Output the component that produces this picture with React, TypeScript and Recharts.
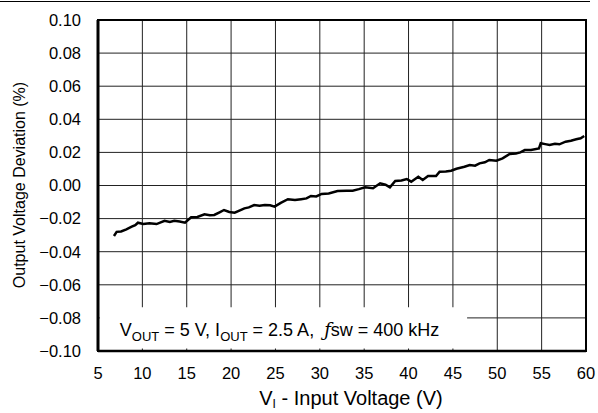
import {
  CartesianGrid,
  Line,
  LineChart,
  ReferenceArea,
  XAxis,
  YAxis,
} from "recharts";

const inputVoltage = [
  6.8, 7.1, 7.6, 8.2, 8.8, 9.2, 9.5, 10.1, 10.8, 11.6, 12.5, 13.1, 13.6, 14.2, 14.8,
  15.5, 16.2, 17.0, 17.6, 18.1, 18.7, 19.2, 19.8, 20.4, 21.0, 21.5, 22.0, 22.6, 23.2,
  23.8, 24.4, 24.9, 25.6, 26.4, 27.2, 27.9, 28.5, 29.0, 29.6, 30.2, 31.0, 32.0, 33.0,
  33.7, 34.4, 35.1, 36.0, 36.8, 37.4, 37.9, 38.5, 39.2, 39.8, 40.3, 41.1, 41.6, 42.2,
  43.1, 43.5, 44.2, 44.8, 45.4, 46.3, 46.9, 47.5, 48.0, 48.6, 49.1, 49.9, 50.6, 51.4,
  52.1, 52.6, 53.1, 53.8, 54.7, 54.9, 55.4, 55.9, 56.5, 57.0, 57.7, 58.3, 58.9, 59.4,
  59.8,
];

const deviation = [
  -0.0305, -0.028, -0.0278, -0.0265, -0.0249, -0.024, -0.0225, -0.0233, -0.0228,
  -0.0233, -0.0213, -0.022, -0.0213, -0.0218, -0.0225, -0.0192, -0.019, -0.0174,
  -0.018, -0.0178, -0.0162, -0.0148, -0.016, -0.0164, -0.015, -0.0138, -0.0132,
  -0.0118, -0.0122, -0.0118, -0.012, -0.0128, -0.0105, -0.0083, -0.0088, -0.0083,
  -0.0078, -0.0063, -0.0066, -0.0051, -0.0048, -0.0033, -0.0031, -0.0031, -0.0022,
  -0.0011, -0.0017, 0.0013, 0.0005, -0.0011, 0.0027, 0.003, 0.0039, 0.0023, 0.0053,
  0.0033, 0.0057, 0.0057, 0.0083, 0.0085, 0.0089, 0.0101, 0.0113, 0.0124, 0.012,
  0.0134, 0.014, 0.0154, 0.015, 0.0164, 0.019, 0.0194, 0.02, 0.0214, 0.0214, 0.0224,
  0.0255, 0.025, 0.0245, 0.0252, 0.0249, 0.0265, 0.027, 0.0279, 0.0285, 0.0299,
];

const xTicks = [5, 10, 15, 20, 25, 30, 35, 40, 45, 50, 55, 60];
const yTicks = [-0.1, -0.08, -0.06, -0.04, -0.02, 0, 0.02, 0.04, 0.06, 0.08, 0.1];

const data = inputVoltage.map((v, i) => ({ v, dev: deviation[i] }));

const FONT = "'Liberation Sans', Arial, sans-serif";
const tickStyle = { fill: "#000", fontSize: 16.5, fontFamily: FONT };

const fmtY = (n: number) => (n < 0 ? "\u2212" + Math.abs(n).toFixed(2) : n.toFixed(2));

const XLabel = (props: any) => {
  const vb = props.viewBox;
  return (
    <text x={vb.x + vb.width / 2 + 9} y={405} textAnchor="middle" fontSize={20} fontFamily={FONT} fill="#000">
      V<tspan fontSize={12} dy={3}>I</tspan>
      <tspan dy={-3}> - Input Voltage (V)</tspan>
    </text>
  );
};

const YLabel = () => (
  <text
    x={19}
    y={185}
    transform="rotate(-90 19 185)"
    textAnchor="middle"
    dominantBaseline="central"
    fontSize={16}
    fontFamily={FONT}
    fill="#000"
  >
    Output Voltage Deviation (%)
  </text>
);

const NoteLabel = (props: any) => {
  const vb = props.viewBox;
  return (
    <text x={vb.x + 20} y={vb.y + 29} fontSize={18} fontFamily={FONT} fill="#000" style={{ whiteSpace: "pre" }}>
      V<tspan fontSize={13} dy={5}>OUT</tspan>
      <tspan dy={-5}>{" = 5 V, I"}</tspan>
      <tspan fontSize={13} dy={5}>OUT</tspan>
      <tspan dy={-5}>{" = 2.5 A,  "}</tspan>
      <tspan fontStyle="italic" fontFamily="'DejaVu Serif', serif">ƒ</tspan>
      <tspan>sw = 400 kHz</tspan>
    </text>
  );
};

export default function App() {
  return (
    <div style={{ position: "relative", width: 598, height: 413, background: "#fff" }}>
      <style>{`body{margin:0}`}</style>
      <div style={{ position: "absolute", left: 0, top: 1, width: 590, height: 1, background: "#000" }} />
      <LineChart width={598} height={413} data={data} margin={{ top: 20, right: 12, bottom: 32, left: 0 }}>
        <CartesianGrid stroke="#222" strokeWidth={1} horizontalValues={yTicks} verticalValues={xTicks} />
        <XAxis
          dataKey="v"
          type="number"
          domain={[5, 60]}
          ticks={xTicks}
          interval={0}
          tick={tickStyle}
          tickLine={false}
          tickSize={8}
          tickMargin={8}
          axisLine={{ stroke: "#000", strokeWidth: 2.5 }}
          label={<XLabel />}
        />
        <YAxis
          type="number"
          domain={[-0.1, 0.1]}
          ticks={yTicks}
          interval={0}
          width={98}
          tickFormatter={fmtY}
          tick={tickStyle}
          tickLine={false}
          tickSize={8}
          tickMargin={9}
          axisLine={{ stroke: "#000", strokeWidth: 3 }}
          label={<YLabel />}
        />
        <ReferenceArea
          x1={5.2}
          x2={46.6}
          y1={-0.0985}
          y2={-0.0735}
          fill="#fff"
          fillOpacity={1}
          stroke="none"
          label={<NoteLabel />}
        />
        <ReferenceArea x1={5} x2={60} y1={-0.1} y2={0.1} fill="none" stroke="#000" strokeWidth={2} />
        <Line
          dataKey="dev"
          type="linear"
          stroke="#000"
          strokeWidth={2.5}
          dot={false}
          isAnimationActive={false}
        />
      </LineChart>
    </div>
  );
}
